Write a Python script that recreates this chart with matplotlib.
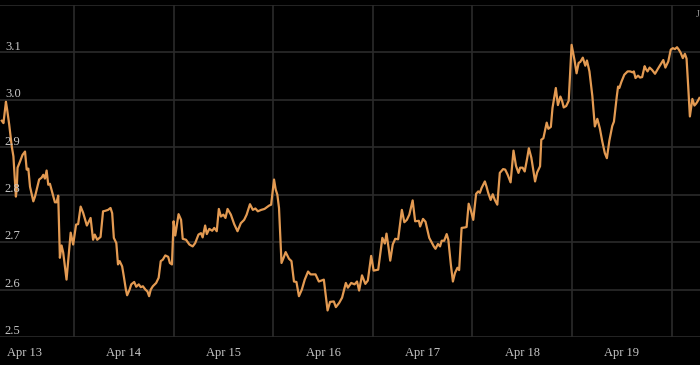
"""Intraday price trace, Apr 13 - Apr 19, dark theme."""
import matplotlib
matplotlib.use("Agg")
import matplotlib.pyplot as plt
import matplotlib.transforms as mtransforms

# hours since Apr 13 00:00
HOURS = [
    6.6, 7.0, 7.6, 7.9, 8.4, 9.0, 9.4, 10.0, 10.2, 10.4, 11.0, 11.6, 12.2, 12.6, 13.0,
    13.4, 14.2, 14.6, 15.6, 16.2, 16.6, 17.0, 17.4, 17.8, 18.2, 18.9, 19.4, 19.8, 20.2,
    20.6, 21.0, 21.4, 22.2, 23.2, 23.8, 24.5, 25.0, 25.6, 26.2, 27.1, 28.0, 28.6, 29.0,
    29.6, 30.4, 31.0, 31.5, 32.2, 32.8, 33.2, 33.6, 34.2, 34.6, 35.0, 35.6, 36.0, 36.5,
    36.8, 37.4, 37.8, 38.5, 39.0, 39.6, 40.1, 40.6, 41.2, 41.7, 42.1, 42.5, 43.0, 43.8,
    44.4, 44.9, 45.4, 46.0, 46.7, 47.1, 47.6, 48.0, 48.4, 49.2, 49.8, 50.2, 51.0, 51.8,
    52.6, 53.2, 54.0, 54.6, 55.0, 55.6, 56.0, 56.6, 57.3, 57.8, 58.4, 58.9, 59.4, 60.0,
    60.5, 61.0, 61.8, 62.6, 63.4, 64.2, 65.0, 65.6, 66.4, 67.1, 67.7, 68.3, 69.1, 69.9,
    71.0, 71.5, 72.2, 72.6, 73.0, 73.4, 74.0, 74.5, 75.0, 75.8, 76.4, 77.0, 77.6, 78.2,
    78.9, 79.6, 80.4, 81.0, 82.2, 83.0, 84.2, 85.1, 85.7, 86.6, 87.1, 87.9, 88.6, 89.5,
    90.0, 90.8, 91.6, 92.2, 92.7, 93.4, 94.2, 94.8, 95.6, 96.2, 97.3, 98.3, 98.9, 99.3,
    99.8, 100.2, 100.8, 101.4, 102.1, 103.0, 103.6, 104.2, 104.8, 105.6, 106.2, 107.1,
    107.4, 108.1, 108.7, 109.6, 110.7, 111.1, 111.7, 112.2, 112.6, 113.2, 113.8, 114.2,
    114.8, 115.3, 115.8, 116.4, 116.8, 117.4, 118.2, 118.6, 119.1, 119.6, 120.2, 120.9,
    121.4, 121.8, 122.2, 123.0, 123.4, 123.8, 124.4, 124.9, 125.4, 126.0, 126.6, 127.4,
    127.9, 128.5, 129.2, 129.9, 130.5, 131.1, 131.5, 132.1, 132.6, 133.2, 133.6, 134.2,
    135.1, 135.6, 136.3, 136.6, 137.1, 137.9, 138.3, 138.9, 139.3, 140.1, 140.6, 141.2,
    141.6, 142.0, 142.6, 143.2, 143.9, 144.6, 145.1, 145.6, 146.0, 146.6, 147.2, 147.6,
    148.2, 148.9, 149.5, 150.1, 150.7, 151.3, 151.9, 152.4, 153.0, 153.7, 154.1, 154.8,
    155.1, 155.4, 155.9, 156.6, 157.4, 158.0, 158.6, 158.9, 159.3, 159.9, 160.4, 160.9,
    161.5, 161.8, 162.2, 162.7, 163.3, 164.0, 164.8, 165.7, 166.0, 166.5, 167.2, 167.8,
    168.3, 168.8, 169.3, 169.8, 170.2, 170.7, 171.2, 171.6, 172.0, 172.4, 173.0, 173.5,
    173.9, 174.2, 174.7,
]

VALUES = [
    2.956, 2.951, 2.996, 2.979, 2.947, 2.902, 2.881, 2.796, 2.811, 2.857, 2.870, 2.884, 2.891, 2.853, 2.855,
    2.817, 2.786, 2.796, 2.832, 2.836, 2.842, 2.834, 2.851, 2.821, 2.823, 2.800, 2.784, 2.784, 2.798,
    2.667, 2.693, 2.678, 2.621, 2.720, 2.695, 2.737, 2.738, 2.775, 2.762, 2.735, 2.751, 2.705, 2.716,
    2.705, 2.711, 2.765, 2.766, 2.768, 2.772, 2.761, 2.709, 2.698, 2.653, 2.660, 2.649, 2.628, 2.600,
    2.588, 2.600, 2.611, 2.616, 2.606, 2.611, 2.605, 2.607, 2.600, 2.596, 2.586, 2.600, 2.607, 2.614,
    2.625, 2.660, 2.663, 2.672, 2.669, 2.656, 2.653, 2.744, 2.714, 2.759, 2.747, 2.707, 2.705, 2.695,
    2.691, 2.698, 2.716, 2.719, 2.710, 2.735, 2.717, 2.728, 2.724, 2.730, 2.723, 2.770, 2.754, 2.758,
    2.751, 2.770, 2.758, 2.738, 2.723, 2.740, 2.747, 2.758, 2.780, 2.768, 2.771, 2.765, 2.768, 2.770,
    2.777, 2.779, 2.832, 2.811, 2.800, 2.772, 2.656, 2.667, 2.679, 2.665, 2.660, 2.617, 2.616, 2.586,
    2.600, 2.621, 2.638, 2.632, 2.632, 2.617, 2.621, 2.556, 2.574, 2.575, 2.563, 2.572, 2.583, 2.614,
    2.604, 2.614, 2.611, 2.617, 2.598, 2.630, 2.612, 2.619, 2.671, 2.640, 2.642, 2.709, 2.697, 2.718,
    2.688, 2.661, 2.695, 2.707, 2.706, 2.768, 2.742, 2.747, 2.758, 2.788, 2.744, 2.745,
    2.733, 2.749, 2.743, 2.709, 2.691, 2.686, 2.696, 2.691, 2.703, 2.703, 2.717, 2.705,
    2.653, 2.617, 2.635, 2.646, 2.641, 2.730, 2.731, 2.732, 2.781, 2.768, 2.747, 2.802,
    2.807, 2.804, 2.814, 2.828, 2.817, 2.804, 2.789, 2.801, 2.789, 2.779, 2.846, 2.854,
    2.853, 2.842, 2.826, 2.893, 2.861, 2.846, 2.857, 2.857, 2.849, 2.877, 2.898, 2.878,
    2.828, 2.847, 2.860, 2.916, 2.919, 2.952, 2.939, 2.943, 2.983, 3.025, 2.989, 3.007,
    2.998, 2.984, 2.987, 2.998, 3.116, 3.084, 3.056, 3.078, 3.080, 3.089, 3.072, 3.083,
    3.060, 3.008, 2.944, 2.960, 2.940, 2.912, 2.888, 2.877, 2.914, 2.945, 2.954, 3.008,
    3.028, 3.025, 3.038, 3.053, 3.060, 3.060, 3.058, 3.060, 3.046, 3.051, 3.047, 3.048,
    3.071, 3.065, 3.060, 3.068, 3.063, 3.055, 3.067, 3.080, 3.084, 3.068, 3.081, 3.106,
    3.109, 3.107, 3.111, 3.105, 3.099, 3.088, 3.097, 3.087, 3.028, 2.965, 3.002, 2.988,
    2.992, 2.996, 3.004,
]

DAY_LABELS = ["Apr 13", "Apr 14", "Apr 15", "Apr 16", "Apr 17", "Apr 18", "Apr 19"]
Y_TICKS = [2.5, 2.6, 2.7, 2.8, 2.9, 3.0, 3.1]

LINE_COLOR = "#e39a52"
GRID_COLOR = "#2b2b2b"
TEXT_COLOR = "#c8c8c8"
FONT = "Liberation Serif"


def main():
    fig = plt.figure(figsize=(7, 3.65), dpi=100, facecolor="black")
    ax = fig.add_axes([0, 28 / 365, 1, 332 / 365], facecolor="black")

    ax.plot(HOURS, VALUES, color=LINE_COLOR, linewidth=1.6, solid_joinstyle="round",
            zorder=3)

    ax.set_xlim(6.17, 174.84)
    ax.set_ylim(2.5, 3.2)

    # labels sit at noon, grid lines at midnight
    ax.set_xticks([12 + 24 * i for i in range(len(DAY_LABELS))])
    ax.set_xticklabels(DAY_LABELS, family=FONT, fontsize=9, color=TEXT_COLOR)
    ax.set_xticks([24 * i for i in range(1, 8)], minor=True)
    ax.tick_params(axis="x", which="both", length=0, pad=7)
    ax.grid(True, axis="x", which="minor", color=GRID_COLOR, linewidth=1.2)

    ax.set_yticks(Y_TICKS + [3.2])
    ax.set_yticklabels([])
    ax.tick_params(axis="y", length=0)
    ax.grid(True, axis="y", which="major", color=GRID_COLOR, linewidth=1.2)

    # y labels drawn inside the plot, just above their grid line
    trans = mtransforms.blended_transform_factory(ax.transAxes, ax.transData)
    trans = trans + mtransforms.ScaledTranslation(0, 2 / 72, fig.dpi_scale_trans)
    for v in Y_TICKS:
        ax.text(0.007, v, f"{v:.1f}", transform=trans, ha="left", va="baseline",
                family=FONT, fontsize=9, color=TEXT_COLOR)

    ax.text(0.996, 0.97, "J", transform=ax.transAxes, ha="center", va="center",
            family=FONT, fontsize=7, color="#9a9a9a")

    for s in ax.spines.values():
        s.set_visible(False)

    fig.savefig("out.png", dpi=100, facecolor="black")
    plt.close(fig)


if __name__ == "__main__":
    main()
